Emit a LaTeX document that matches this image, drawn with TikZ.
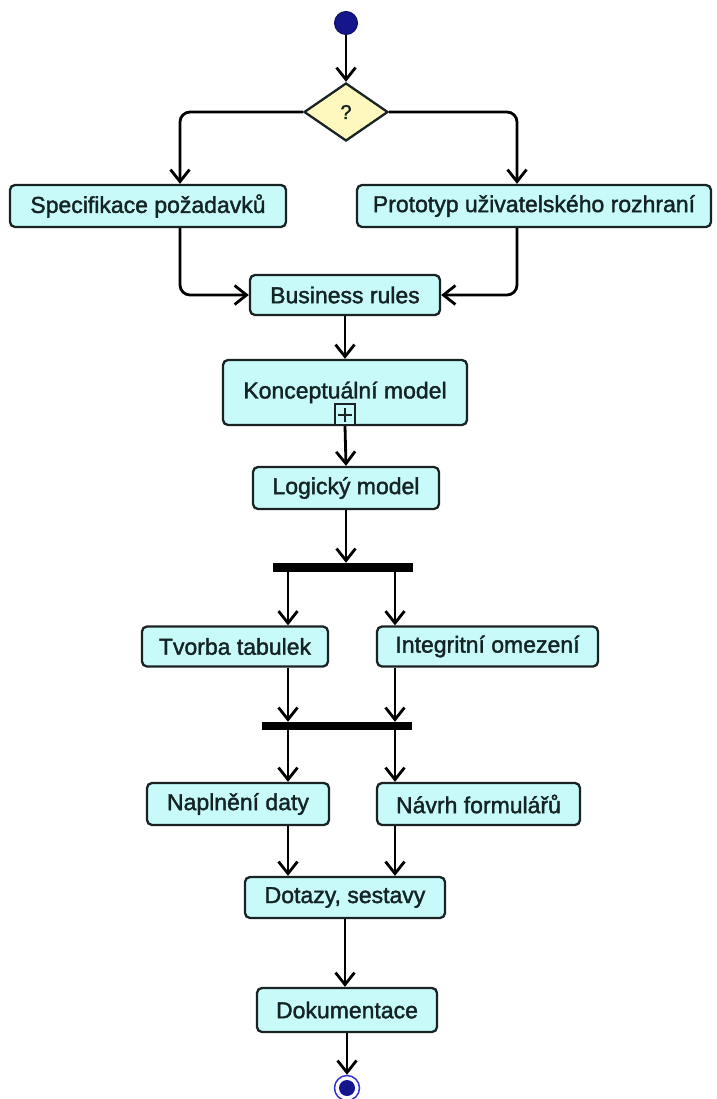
\documentclass[tikz,border=0pt]{standalone}
\usepackage{fontspec}
\setmainfont{Liberation Sans}[FakeBold=1.6]
\usetikzlibrary{shapes.geometric,arrows.meta}
\definecolor{boxfill}{RGB}{200,250,250}
\definecolor{boxline}{RGB}{25,35,35}
\definecolor{textc}{RGB}{20,35,35}
\definecolor{decfill}{RGB}{255,248,190}
\definecolor{navy}{RGB}{22,22,140}
\definecolor{ring}{RGB}{50,50,210}
\begin{document}
\begin{tikzpicture}[x=1pt,y=-1pt,
  act/.style={draw=boxline, line width=2.3pt, fill=boxfill, rounded corners=5pt,
    inner sep=0pt, text=textc, font=\fontsize{23}{27}\selectfont},
  barnode/.style={fill=black, draw=none, inner sep=0pt, minimum height=9pt},
  arr/.style={line width=2.8pt, draw=black,
    -{Straight Barb[length=12pt,width=19pt,line width=2.8pt]}},
  lane/.style={rounded corners=10pt}]
\useasboundingbox (0,0) rectangle (716,1099);

% start / end
\node[circle, fill=navy, draw=navy!70!black, line width=1pt, minimum size=23pt, inner sep=0pt] (start) at (346,23) {};
\node[diamond, draw=boxline, line width=2.3pt, fill=decfill, minimum width=84pt, minimum height=58pt,
  inner sep=0pt, text=textc, font=\fontsize{20}{22}\selectfont] (dec) at (346,112) {?};

% activities
\node[act, minimum width=276pt, minimum height=42pt] (spec) at (148,206) {Specifikace požadavků};
\node[act, minimum width=354pt, minimum height=42pt] (proto) at (534,206) {Prototyp uživatelského rozhraní};
\node[act, minimum width=190pt, minimum height=40pt] (br) at (345,295) {Business rules};
\node[act, minimum width=244pt, minimum height=65pt] (km) at (345,392.5) {\raisebox{5pt}{Konceptuální model}};
\node[draw=boxline, line width=1.8pt, fill=boxfill, minimum width=20pt, minimum height=21pt,
  inner sep=0pt, anchor=south,
  path picture={\draw[line width=1.8pt, boxline]
    ([xshift=-7pt]path picture bounding box.center) -- ([xshift=7pt]path picture bounding box.center)
    ([yshift=-7pt]path picture bounding box.center) -- ([yshift=7pt]path picture bounding box.center);}]
  (plus) at (km.south) {};
\node[act, minimum width=186pt, minimum height=42pt] (lm) at (346,488) {Logický model};
\node[barnode, minimum width=140pt] (fork) at (343,567.5) {};
\node[act, minimum width=186pt, minimum height=40pt] (tt) at (235,646.5) {Tvorba tabulek};
\node[act, minimum width=221pt, minimum height=40pt] (io) at (487.5,646.5) {Integritní omezení};
\node[barnode, minimum width=150pt, minimum height=8pt] (join) at (337,726) {};
\node[act, minimum width=182pt, minimum height=42pt] (np) at (238,804) {Naplnění daty};
\node[act, minimum width=203pt, minimum height=42pt] (nf) at (478.5,804) {Návrh formulářů};
\node[act, minimum width=200pt, minimum height=41pt] (dz) at (345,897.5) {Dotazy, sestavy};
\node[act, minimum width=180pt, minimum height=44pt] (dk) at (347,1010) {Dokumentace};
\node[circle, draw=ring, line width=1.5pt, fill=white, minimum size=25pt, inner sep=0pt] (end) at (347,1088) {};
\fill[navy] (end.center) circle (8pt);

% lanes
\coordinate (L) at (288,0);
\coordinate (R) at (395,0);

% connectors
\draw[arr] (start) -- (dec.north);
\draw[arr, lane] (dec.west) -| ([xshift=32pt]spec.north);
\draw[arr, lane] (dec.east) -| ([xshift=-17pt]proto.north);
\draw[arr, lane] ([xshift=32pt]spec.south) |- (br.west);
\draw[arr, lane] ([xshift=-17pt]proto.south) |- (br.east);
\draw[arr] (br.south) -- (km.north);
\draw[arr] (plus.south) -- (lm.north);
\draw[arr] (lm.south) -- (fork.north -| lm.south);
\draw[arr] (fork.south -| L) -- (tt.north -| L);
\draw[arr] (fork.south -| R) -- (io.north -| R);
\draw[arr] (tt.south -| L) -- (join.north -| L);
\draw[arr] (io.south -| R) -- (join.north -| R);
\draw[arr] (join.south -| L) -- (np.north -| L);
\draw[arr] (join.south -| R) -- (nf.north -| R);
\draw[arr] (np.south -| L) -- (dz.north -| L);
\draw[arr] (nf.south -| R) -- (dz.north -| R);
\draw[arr] (dz.south) -- (dz.south |- dk.north);
\draw[arr] (dk.south) -- (end.north);
\end{tikzpicture}
\end{document}
